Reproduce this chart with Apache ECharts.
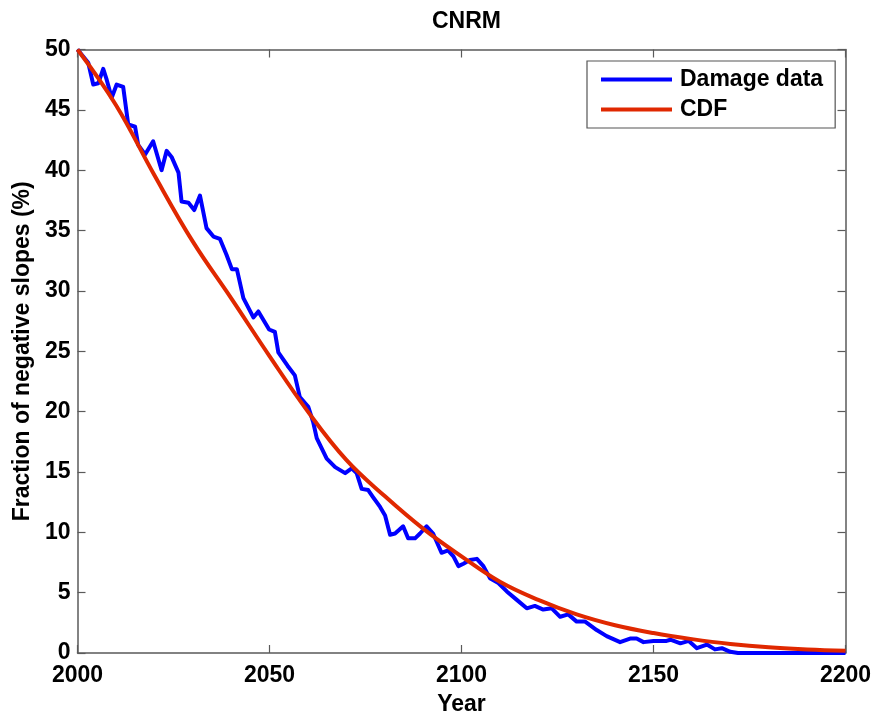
<!DOCTYPE html>
<html>
<head>
<meta charset="utf-8">
<script src="https://cdn.jsdelivr.net/npm/echarts@6/dist/echarts.min.js"></script>
<style>html,body{margin:0;padding:0;background:#fff}#chart{width:877px;height:721px}</style>
</head>
<body>
<div id="chart"></div>
<script>
var titleText = 'CNRM';
var seriesNames = ['Damage data', 'CDF'];
var damageYears = [2000, 2002.8, 2004.1, 2005.4, 2006.7, 2007.6, 2008.9, 2010.2, 2011.9, 2013.2, 2015.0, 2015.8, 2017.6, 2019.7, 2021.9, 2023.2, 2024.5, 2026.3, 2027.1, 2028.9, 2030.4, 2031.9, 2033.6, 2035.4, 2037.1, 2038.8, 2040.2, 2041.5, 2043.2, 2045.8, 2047.1, 2049.9, 2051.4, 2052.3, 2054.7, 2056.6, 2057.9, 2060.1, 2061.4, 2062.3, 2064.9, 2067.1, 2069.7, 2071.4, 2072.7, 2074.0, 2075.7, 2077.0, 2078.8, 2080.1, 2081.4, 2082.7, 2084.8, 2086.1, 2087.9, 2089.2, 2090.9, 2092.6, 2094.8, 2096.5, 2097.9, 2099.2, 2100.5, 2102.2, 2104.0, 2105.7, 2107.4, 2109.6, 2111.8, 2114.4, 2117.0, 2119.1, 2121.3, 2123.5, 2125.7, 2127.8, 2130.0, 2132.2, 2135.2, 2137.8, 2141.3, 2143.9, 2145.6, 2147.4, 2150.0, 2153.4, 2154.4, 2157.0, 2159.2, 2161.3, 2163.9, 2166.0, 2167.8, 2170.0, 2172.0, 2200.0];
var damageValues = [50, 48.9, 47.1, 47.2, 48.4, 47.5, 46.0, 47.1, 46.9, 43.8, 43.6, 42.1, 41.3, 42.4, 40.0, 41.6, 41.1, 39.8, 37.4, 37.3, 36.7, 37.9, 35.2, 34.5, 34.3, 33.0, 31.8, 31.8, 29.4, 27.8, 28.3, 26.8, 26.6, 24.9, 23.8, 23.0, 21.2, 20.4, 19.1, 17.8, 16.1, 15.4, 14.9, 15.3, 14.9, 13.6, 13.5, 12.9, 12.1, 11.4, 9.8, 9.9, 10.5, 9.5, 9.5, 9.9, 10.5, 9.9, 8.3, 8.5, 8.0, 7.2, 7.4, 7.7, 7.8, 7.2, 6.2, 5.8, 5.1, 4.4, 3.7, 3.9, 3.6, 3.7, 3.0, 3.2, 2.6, 2.6, 1.9, 1.4, 0.9, 1.2, 1.2, 0.9, 1.0, 1.0, 1.1, 0.8, 1.0, 0.4, 0.7, 0.3, 0.4, 0.1, 0, 0];
var cdfYears = [2000, 2010, 2020, 2030, 2040, 2050, 2060, 2070, 2080, 2090, 2100, 2110, 2120, 2130, 2140, 2150, 2160, 2170, 2180, 2190, 2200];
var cdfValues = [50, 45.4, 39.6, 34.1, 29.4, 24.6, 20.0, 16.0, 13.0, 10.3, 8.0, 5.9, 4.4, 3.2, 2.3, 1.65, 1.15, 0.75, 0.47, 0.3, 0.19];
var xTicks = {min: 2000, max: 2200, step: 50};
var yTicks = {min: 0, max: 50, step: 5};
var xName = 'Year';
var yName = 'Fraction of negative slopes (%)';

function pairs(xs, ys) { return xs.map(function (x, i) { return [x, ys[i]]; }); }

var FONT = '"Liberation Sans", Arial, sans-serif';
var axisColor = '#5a5a5a';
function baseAxis(extra) {
  var a = {
    type: 'value',
    axisLine: {show: true, onZero: false, lineStyle: {color: axisColor, width: 1.5}},
    axisTick: {show: true, inside: true, length: 8, lineStyle: {color: axisColor, width: 1.2}},
    splitLine: {show: false},
    axisLabel: {show: false}
  };
  for (var k in extra) a[k] = extra[k];
  return a;
}
var labelStyle = {color: '#000', fontFamily: FONT, fontWeight: 'bold', fontSize: 23};
function plain(v) { return String(v); }

var chart = echarts.init(document.getElementById('chart'), null, {renderer: 'canvas'});
chart.setOption({
  animation: false,
  backgroundColor: '#fff',
  title: {
    text: titleText, left: 461.5, textAlign: 'center', top: 5,
    textStyle: {fontFamily: FONT, fontWeight: 'bold', fontSize: 23, color: '#000'}
  },
  grid: {left: 77.5, right: 31.5, top: 49.5, bottom: 66, containLabel: false},
  legend: {
    left: 587, top: 61, orient: 'vertical',
    padding: [7, 12, 7, 14], itemGap: 7, itemWidth: 71, itemHeight: 4,
    borderColor: '#555', borderWidth: 1.2, backgroundColor: '#fff',
    textStyle: {fontFamily: FONT, fontWeight: 'bold', fontSize: 23, color: '#000', padding: [0, 0, 0, 3]},
    data: [{name: seriesNames[0], icon: 'rect'}, {name: seriesNames[1], icon: 'rect'}]
  },
  xAxis: [
    baseAxis({position: 'bottom', min: xTicks.min, max: xTicks.max, interval: xTicks.step,
      axisLabel: Object.assign({show: true, margin: 11, formatter: plain}, labelStyle),
      name: xName, nameLocation: 'middle', nameGap: 40,
      nameTextStyle: labelStyle}),
    baseAxis({position: 'top', min: xTicks.min, max: xTicks.max, interval: xTicks.step})
  ],
  yAxis: [
    baseAxis({position: 'left', min: yTicks.min, max: yTicks.max, interval: yTicks.step,
      axisLabel: Object.assign({show: true, margin: 7, formatter: plain}, labelStyle),
      name: yName, nameLocation: 'middle', nameGap: 43, nameRotate: 90,
      nameTextStyle: labelStyle}),
    baseAxis({position: 'right', min: yTicks.min, max: yTicks.max, interval: yTicks.step})
  ],
  series: [
    {name: seriesNames[0], type: 'line', data: pairs(damageYears, damageValues),
      showSymbol: false, symbol: 'none', color: '#0000ff',
      lineStyle: {color: '#0000ff', width: 4, join: 'round'}},
    {name: seriesNames[1], type: 'line', data: pairs(cdfYears, cdfValues),
      showSymbol: false, symbol: 'none', smooth: 0.4, color: '#e02800',
      lineStyle: {color: '#e02800', width: 4}}
  ]
});
</script>
</body>
</html>
